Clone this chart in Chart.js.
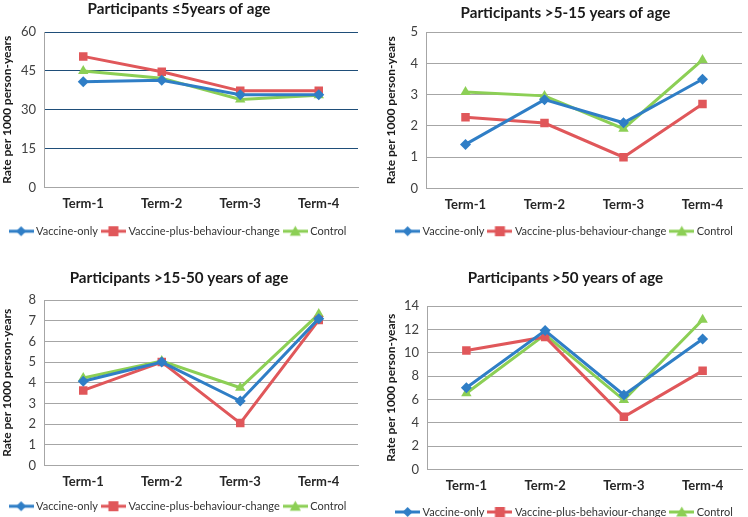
<!DOCTYPE html>
<html lang="en">
<head>
<meta charset="UTF-8">
<title>Rates per 1000 person-years by age group</title>
<script src="https://cdn.jsdelivr.net/npm/chart.js@4.4.1/dist/chart.umd.min.js"></script>
<style>
  html, body { margin: 0; padding: 0; background: #fff; }
  body { width: 748px; height: 517px; position: relative; overflow: hidden; }
  .panel { position: absolute; width: 374px; }
</style>
</head>
<body>
<div class="panel" style="left:0;top:0"><canvas id="c1" width="374" height="259"></canvas></div>
<div class="panel" style="left:374px;top:0"><canvas id="c2" width="374" height="259"></canvas></div>
<div class="panel" style="left:0;top:258px"><canvas id="c3" width="374" height="270"></canvas></div>
<div class="panel" style="left:374px;top:258px"><canvas id="c4" width="374" height="270"></canvas></div>
<script>
  // categories and series names
  const terms = ['Term-1', 'Term-2', 'Term-3', 'Term-4'];
  const seriesNames = ['Vaccine-only', 'Vaccine-plus-behaviour-change', 'Control'];

  // participants <=5 years
  const under5Vaccine = [40.8, 41.4, 35.8, 35.8];
  const under5Behaviour = [50.6, 44.7, 37.3, 37.3];
  const under5Control = [45.0, 42.2, 34.0, 35.6];

  // participants >5-15 years
  const age5to15Vaccine = [1.41, 2.84, 2.10, 3.49];
  const age5to15Behaviour = [2.28, 2.09, 1.00, 2.70];
  const age5to15Control = [3.08, 2.96, 1.91, 4.11];

  // participants >15-50 years
  const age15to50Vaccine = [4.07, 5.00, 3.12, 7.10];
  const age15to50Behaviour = [3.63, 5.00, 2.05, 7.03];
  const age15to50Control = [4.23, 5.05, 3.76, 7.32];

  // participants >50 years
  const over50Vaccine = [7.00, 11.90, 6.38, 11.18];
  const over50Behaviour = [10.20, 11.35, 4.51, 8.45];
  const over50Control = [6.53, 11.55, 5.95, 12.82];

  const colors = ['#2f7ec6', '#e0575a', '#8ccf55'];
  const markers = ['rectRot', 'rect', 'triangle'];
  const gridGray = '#a6a6a6';
  const font = "Lato, 'Open Sans', sans-serif";

  // little line+marker pictures for the legend (wider than the box, so text sits close)
  const legendIcon = (i) => {
    const c = document.createElement('canvas');
    c.width = 25; c.height = 12;
    const g = c.getContext('2d');
    g.strokeStyle = colors[i]; g.fillStyle = colors[i]; g.lineWidth = 3;
    g.beginPath(); g.moveTo(0, 6); g.lineTo(25, 6); g.stroke();
    g.beginPath();
    if (i === 0) { g.moveTo(12.5, 1); g.lineTo(17.5, 6); g.lineTo(12.5, 11); g.lineTo(7.5, 6); }
    else if (i === 1) { g.rect(7.5, 1, 10, 10); }
    else { g.moveTo(12.5, 0.5); g.lineTo(18, 10.5); g.lineTo(7, 10.5); }
    g.closePath(); g.fill();
    return c;
  };
  const icons = [0, 1, 2].map(legendIcon);

  const makeChart = (id, p) => {
    new Chart(document.getElementById(id), {
      type: 'line',
      data: {
        labels: terms,
        datasets: p.series.map((s, i) => ({
          label: seriesNames[i],
          data: s,
          borderColor: colors[i],
          backgroundColor: colors[i],
          borderWidth: 3,
          pointStyle: markers[i],
          pointRadius: i === 0 ? 5.5 : 6,
          pointBorderWidth: 0,
          tension: 0
        }))
      },
      options: {
        responsive: false,
        animation: false,
        layout: { padding: { left: p.padLeft, right: p.padRight, top: 0, bottom: p.padBottom } },
        plugins: {
          title: {
            display: true,
            text: p.title,
            color: '#1a1a1a',
            font: { family: font, size: 15.2, weight: 'bold' },
            padding: { top: p.titleTop, bottom: p.titleBottom }
          },
          legend: {
            position: 'bottom',
            labels: {
              usePointStyle: true,
              pointStyleWidth: 19,
              generateLabels: (chart) => chart.data.datasets.map((d, i) => ({
                text: d.label,
                pointStyle: icons[i],
                fillStyle: colors[i],
                strokeStyle: colors[i],
                lineWidth: 0,
                fontColor: '#333',
                datasetIndex: i
              })),
              color: '#333',
              font: { family: font, size: 11 },
              padding: 6
            }
          },
          tooltip: { enabled: false }
        },
        scales: {
          x: {
            offset: true,
            grid: { display: false, drawTicks: false },
            border: { display: true, color: gridGray },
            ticks: { color: '#262626', font: { family: font, size: 13, weight: 'bold' }, padding: 9 },
            afterFit: (s) => { s.height = p.xHeight; }
          },
          y: {
            min: 0,
            max: p.max,
            ticks: { stepSize: p.step, autoSkip: false, color: '#404040', font: { family: font, size: 13 }, padding: 8 },
            grid: {
              drawTicks: false,
              lineWidth: 1,
              color: (ctx) => ctx.tick && ctx.tick.value === 0 ? gridGray : p.gridColor
            },
            border: { display: true, color: gridGray },
            title: {
              display: true,
              text: 'Rate per 1000 person-years',
              color: '#1a1a1a',
              font: { family: font, size: 12, weight: 'bold' },
              padding: { top: 0, bottom: 4 }
            },
            afterFit: (s) => { s.width = p.yWidth; }
          }
        }
      }
    });
  };

  makeChart('c1', {
    title: 'Participants \u22645years of age',
    series: [under5Vaccine, under5Behaviour, under5Control],
    max: 60, step: 15, gridColor: '#1f4e79',
    padLeft: 0, padRight: 16, padBottom: 12.25, yWidth: 44,
    titleTop: 0, titleBottom: 13.8, xHeight: 32.25
  });
  makeChart('c2', {
    title: 'Participants >5-15 years of age',
    series: [age5to15Vaccine, age5to15Behaviour, age5to15Control],
    max: 5, step: 1, gridColor: gridGray,
    padLeft: 10, padRight: 1, padBottom: 12.25, yWidth: 42,
    titleTop: 4, titleBottom: 9.8, xHeight: 31.25
  });
  makeChart('c3', {
    title: 'Participants >15-50 years of age',
    series: [age15to50Vaccine, age15to50Behaviour, age15to50Control],
    max: 8, step: 1, gridColor: gridGray,
    padLeft: 0, padRight: 16, padBottom: 6.25, yWidth: 44,
    titleTop: 11, titleBottom: 12.8, xHeight: 29.25
  });
  makeChart('c4', {
    title: 'Participants >50 years of age',
    series: [over50Vaccine, over50Behaviour, over50Control],
    max: 14, step: 2, gridColor: gridGray,
    padLeft: 10, padRight: 1, padBottom: 0.5, yWidth: 43,
    titleTop: 11, titleBottom: 18.8, xHeight: 31
  });
</script>
</body>
</html>
